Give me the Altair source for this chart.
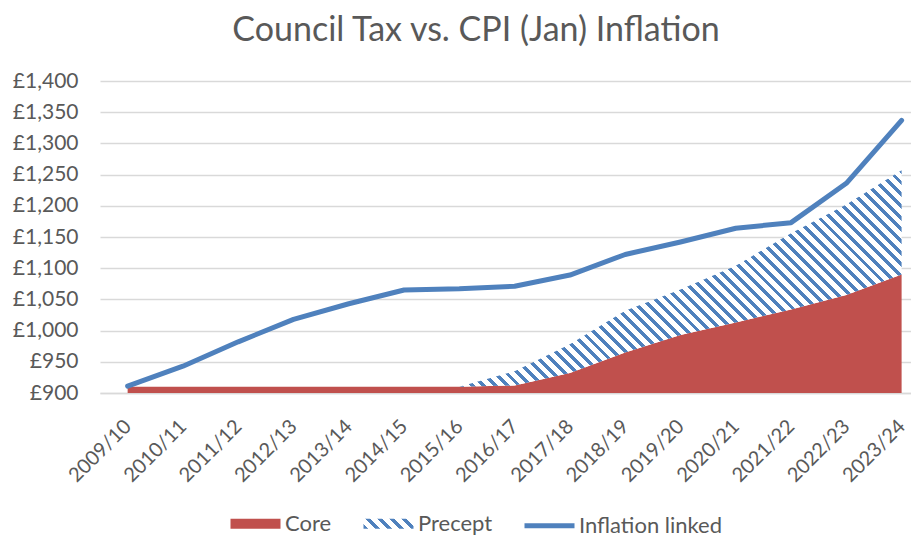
import json
import altair as alt
import pandas as pd

# ---------------- data ----------------
years = ["2009/10", "2010/11", "2011/12", "2012/13", "2013/14", "2014/15", "2015/16",
         "2016/17", "2017/18", "2018/19", "2019/20", "2020/21", "2021/22", "2022/23", "2023/24"]
core = [910, 910, 910, 910, 910, 910, 910, 912, 932, 965, 993, 1013, 1034, 1057, 1090]
precept = [0, 0, 0, 0, 0, 0, 0, 23, 46, 67, 73, 91, 122, 145, 167]
inflation = [911, 943, 982, 1018, 1043, 1065, 1067, 1071, 1089, 1122, 1142, 1164, 1173, 1236, 1337]
series_names = ["Core", "Precept", "Inflation linked"]
y_ticks = [900, 950, 1000, 1050, 1100, 1150, 1200, 1250, 1300, 1350, 1400]
title_text = "Council Tax vs. CPI (Jan) Inflation"

# ---------------- styling ----------------
RED = "#C0504D"
BLUE = "#4F81BD"
TEXT = "#595959"
GRID = "#D9D9D9"
FONT = "Lato"
W, H = 811, 312
X_DOMAIN = [-0.5, 14.17]
Y_DOMAIN = [900, 1400]
PRECEPT_START = 6  # precept series begins at 2015/16

df = pd.DataFrame({
    "idx": list(range(len(years))),
    "year": years,
    "core": core,
    "top": [c + p for c, p in zip(core, precept)],
    "inflation": inflation,
})
precept_df = df[df["idx"] >= PRECEPT_START].reset_index(drop=True)


def hatch(w, h, period_h, frac, c1, c2="#FFFFFF"):
    """Diagonal ('\\') stripes built from a linear gradient in bbox units."""
    r = h / w
    s = (1 + r) / (1 + r * r)
    dt = period_h / (w * s * (1 + r * r))
    stops = []
    k = 0
    while k * dt < 1:
        a = k * dt
        b = min(a + frac * dt, 1.0)
        c = min((k + 1) * dt, 1.0)
        stops += [{"offset": round(a, 5), "color": c1}, {"offset": round(b, 5), "color": c1},
                  {"offset": round(b, 5), "color": c2}, {"offset": round(c, 5), "color": c2}]
        k += 1
    return {"gradient": "linear", "x1": 0, "y1": 1, "x2": round(s, 5),
            "y2": round(1 - s * r, 5), "stops": stops}


pxu = W / (X_DOMAIN[1] - X_DOMAIN[0])
pyu = H / (Y_DOMAIN[1] - Y_DOMAIN[0])
area_w = (len(years) - 1 - PRECEPT_START) * pxu
area_h = (max(precept_df["top"]) - min(precept_df["core"])) * pyu
area_grad = hatch(area_w, area_h, 11.7, 0.42, BLUE)
legend_grad = hatch(50, 10, 12.0, 0.42, BLUE)

label_expr = json.dumps(years) + "[datum.value]"

x_enc = alt.X(
    "idx:Q",
    scale=alt.Scale(domain=X_DOMAIN, nice=False, zero=False),
    axis=alt.Axis(values=list(range(len(years))), labelExpr=label_expr, labelAngle=-45,
                  labelAlign="right", labelBaseline="middle",
                  labelFont=FONT, labelFontSize=20, labelColor=TEXT, labelPadding=30,
                  labelOverlap=False, labelBound=False, labelFlush=False,
                  grid=False, ticks=False, domain=True, domainColor=GRID, domainWidth=1.3,
                  title=None),
)
y_scale = alt.Scale(domain=Y_DOMAIN, nice=False, zero=False)
y_axis = alt.Axis(values=y_ticks, labelExpr="'£' + format(datum.value, ',')",
                  labelFont=FONT, labelFontSize=21, labelColor=TEXT, labelPadding=22,
                  grid=True, gridColor=GRID, gridWidth=1.3, domain=False, ticks=False,
                  tickSize=0, title=None)

core_area = alt.Chart(df).mark_area(color=RED, opacity=1).encode(
    x=x_enc,
    y=alt.Y("core:Q", scale=y_scale, axis=y_axis),
    y2=alt.Y2Datum(Y_DOMAIN[0]),
)

precept_area = alt.Chart(precept_df).mark_area(opacity=1).encode(
    x=x_enc,
    y=alt.Y("top:Q", scale=y_scale, axis=y_axis),
    y2="core:Q",
    fill=alt.value(area_grad),
)

shape_expr = ("datum.value === 'Inflation linked' ? 'M-1,0H1' : 'M-1,-0.2H1V0.2H-1Z'")
fill_expr = ("datum.value === 'Core' ? '" + RED + "' : (datum.value === 'Precept' ? "
             + json.dumps(legend_grad) + " : 'transparent')")

legend = alt.Legend(
    orient="none", direction="horizontal", legendX=128, legendY=415, title=None,
    labelFont=FONT, labelFontSize=22, labelColor=TEXT, labelOffset=2,
    columnPadding=21, symbolSize=2500, padding=0,
    symbolType={"expr": shape_expr},
    symbolFillColor={"expr": fill_expr},
    symbolStrokeWidth=5, symbolOpacity=1,
)

line = alt.Chart(df).transform_calculate(series="'Inflation linked'").mark_line(
    strokeWidth=5, strokeCap="round", strokeJoin="round"
).encode(
    x=x_enc,
    y=alt.Y("inflation:Q", scale=y_scale, axis=y_axis),
    color=alt.Color("series:N",
                    scale=alt.Scale(domain=series_names, range=["transparent", "transparent", BLUE]),
                    legend=legend),
)

chart = alt.layer(core_area, precept_area, line).properties(
    width=W, height=H,
    padding={"left": 92, "top": 73, "right": 0, "bottom": 145},
    autosize=alt.AutoSizeParams(type="none"),
    title=alt.TitleParams(title_text, font=FONT, fontSize=34, fontWeight="normal", color=TEXT,
                          anchor="middle", dx=-29.5, offset=22),
).configure_view(stroke=None)

chart.save("out.html", embed_options={"renderer": "svg", "actions": False})
